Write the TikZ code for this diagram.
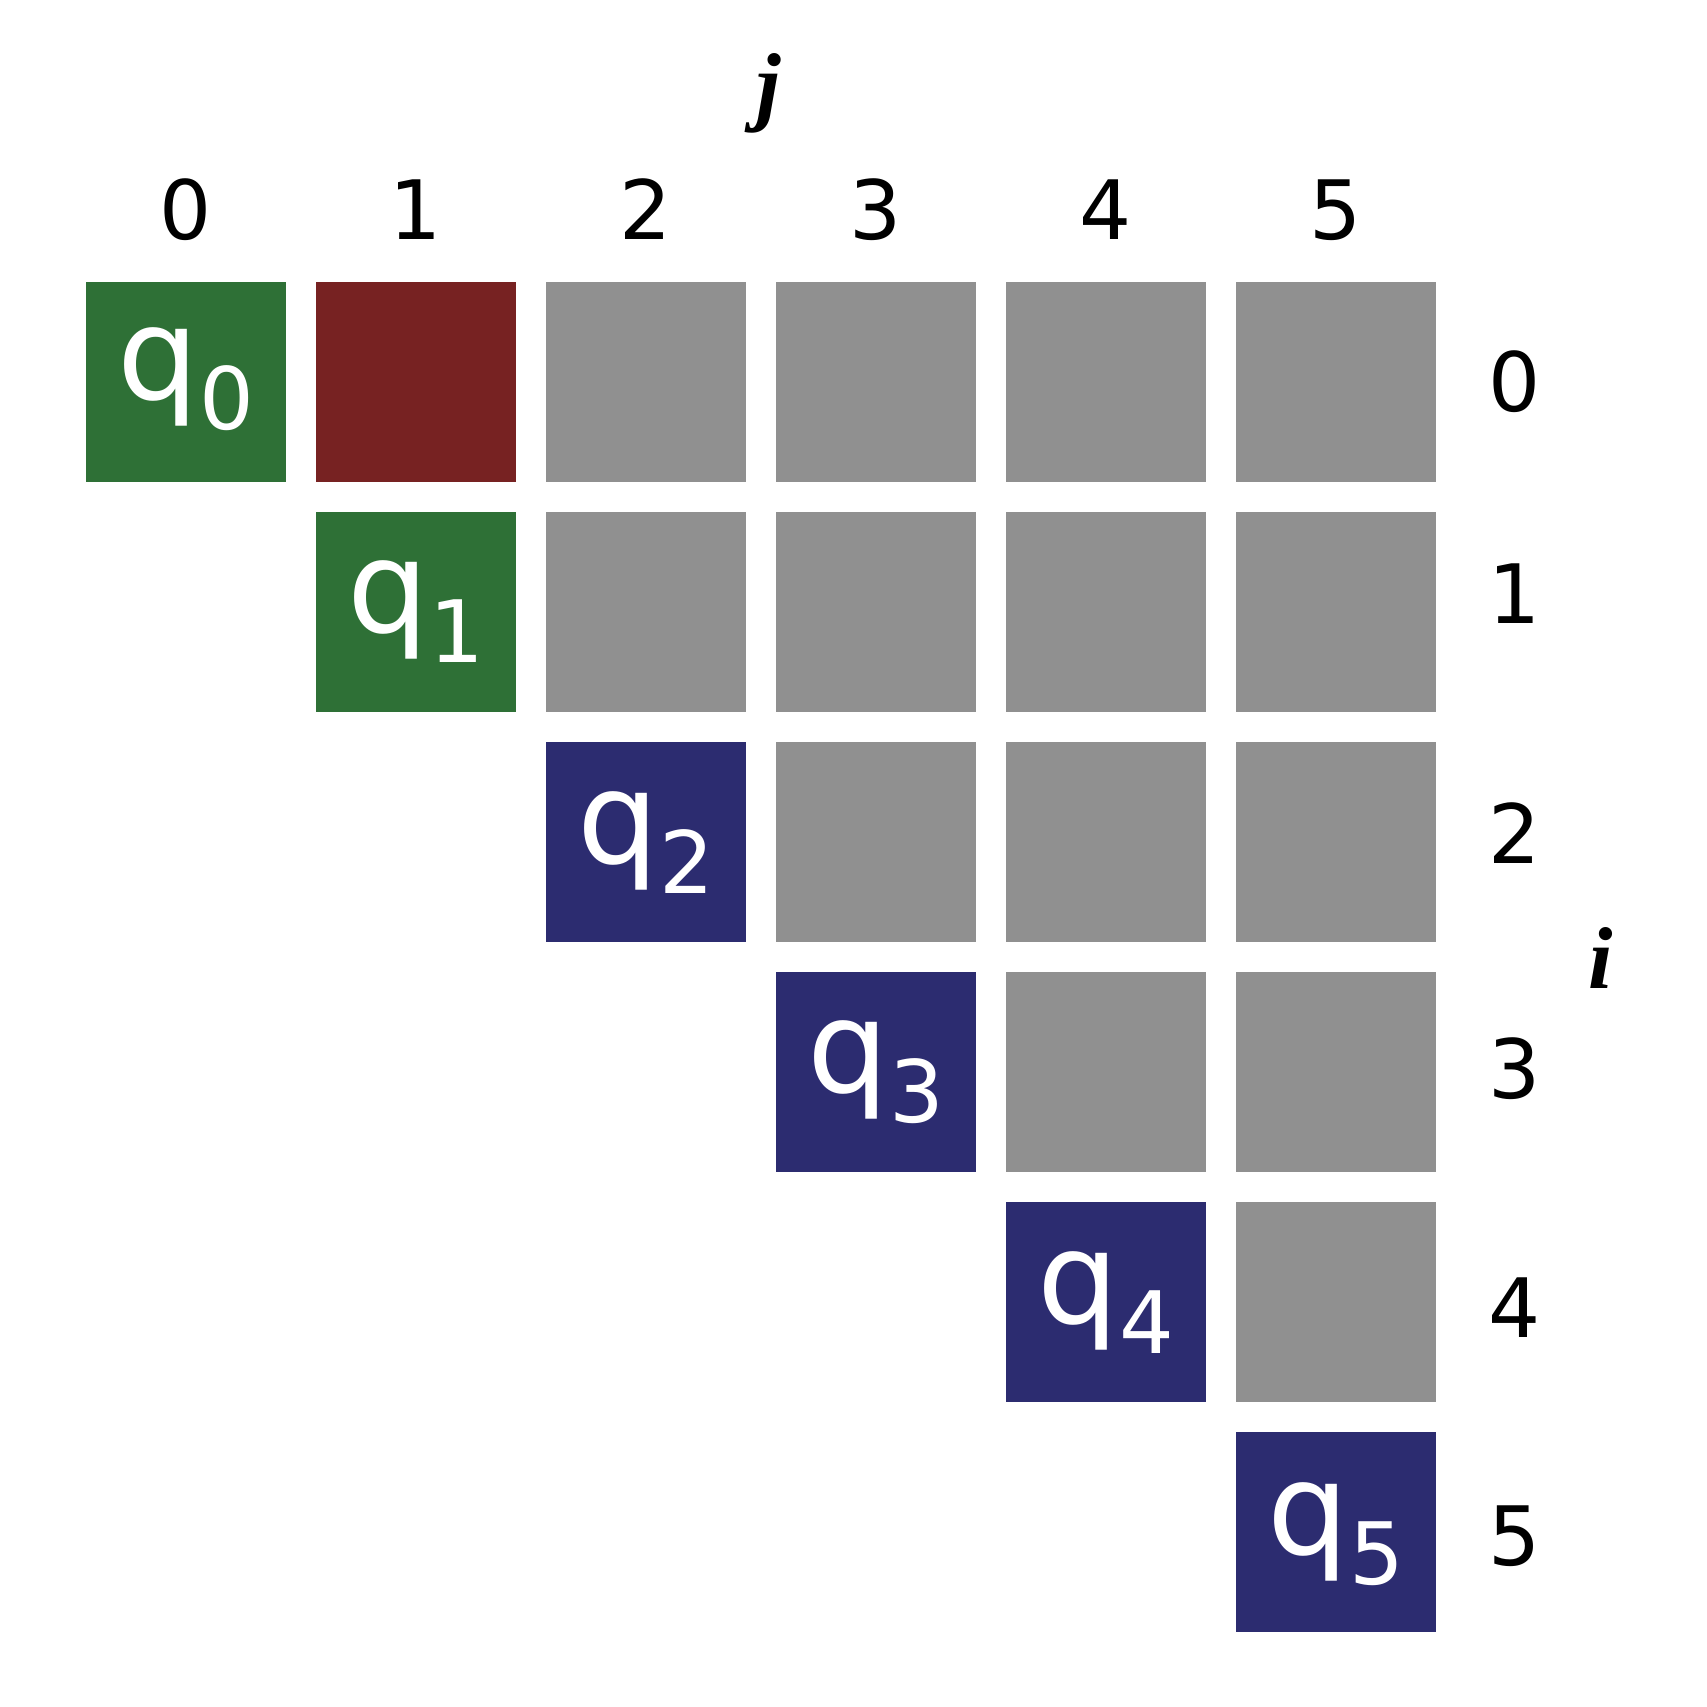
\documentclass[tikz,border=0pt]{standalone}
\usepackage{fontspec}
\setmainfont{DejaVu Sans}
\newfontfamily\axisfont{Liberation Serif}
\definecolor{cellgreen}{RGB}{46,112,54}
\definecolor{cellred}{RGB}{119,34,34}
\definecolor{cellgray}{RGB}{144,144,144}
\definecolor{cellnavy}{RGB}{44,44,112}
\tikzset{
  cellbox/.style={minimum size=2cm, inner sep=0pt, outer sep=0pt, draw=none},
  graycell/.style={cellbox, fill=cellgray},
  redcell/.style={cellbox, fill=cellred},
  greencell/.style={cellbox, fill=cellgreen},
  navycell/.style={cellbox, fill=cellnavy},
  idxlabel/.style={inner sep=0pt, anchor=base, font=\fontsize{23.3pt}{28pt}\selectfont},
  axislabel/.style={inner sep=0pt, font=\fontsize{25pt}{30pt}\selectfont\axisfont\bfseries\itshape},
  qlabel/.style={inner sep=0pt, anchor=base, text=white, font=\fontsize{36.5pt}{44pt}\selectfont}
}
\begin{document}
\begin{tikzpicture}[x=0.01cm,y=-0.01cm]
\useasboundingbox (0,0) rectangle (1707,1707);
% upper triangle gray cells
\foreach \r in {0,...,4}{
  \foreach \c in {\r,...,5}{
    \ifnum\c>\r
      \node[graycell] (cell-\r-\c) at ({185.7+230*\c},{381.7+230*\r}) {};
    \fi
  }
}
% red cell over (0,1)
\node[redcell] (cell-0-1r) at ({185.7+230*1},{381.7}) {};
% diagonal cells
\foreach \r/\sty/\dy in {0/greencell/17.5,1/greencell/21,2/navycell/21.5,3/navycell/21,4/navycell/22,5/navycell/22.5}{
  \node[\sty] (diag-\r) at ({185.7+230*\r},{381.7+230*\r}) {};
  \node[qlabel] (q-\r) at ({185.7+230*\r},{381.7+230*\r+\dy}) {q\raisebox{-8.6pt}{\fontsize{24.5pt}{30pt}\selectfont\r}};
}
% column labels
\foreach \c in {0,...,5}{
  \node[idxlabel] (col-\c) at ({185.7+230*\c},240) {\c};
}
% row labels
\foreach \r/\yb in {0/411.7,1/623.3,2/863.3,3/1098.3,4/1337.3,5/1565}{
  \node[idxlabel] (row-\r) at (1515,\yb) {\r};
}
\node[axislabel] (jlab) at (769,93) {j};
\node[axislabel] (ilab) at (1601,958) {i};
\end{tikzpicture}
\end{document}
